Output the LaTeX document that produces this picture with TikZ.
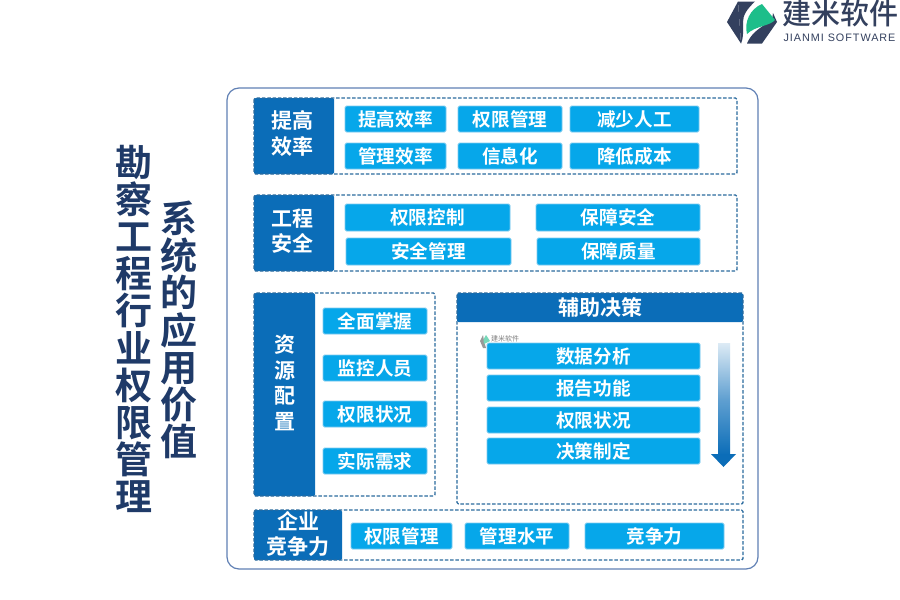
\documentclass[tikz,border=0pt]{standalone}
\usepackage{fontspec}
\setmainfont{Noto Sans CJK SC}[BoldFont={Noto Sans CJK SC Bold}]
\newfontfamily\latinf{Liberation Sans}
\newfontfamily\brandf{Noto Sans CJK SC Medium}
\usetikzlibrary{calc}
\definecolor{hdblue}{HTML}{0B6DB8}
\definecolor{cellblue}{HTML}{06A7EA}
\definecolor{celledge}{HTML}{7CCBF0}
\definecolor{dashblue}{HTML}{2A6A9E}
\definecolor{navy}{HTML}{1F3A68}
\definecolor{logodark}{HTML}{33405E}
\definecolor{logogreen}{HTML}{1DBE8A}
\definecolor{outerblue}{HTML}{6080B4}
\tikzset{
  x=1pt,y=-1pt,
  cellbox/.style={draw=celledge,line width=0.8pt,fill=cellblue,rounded corners=1.5pt,inner sep=0,outer sep=0,text=white,font=\bfseries\fontsize{18.6}{20}\selectfont,anchor=center},
  hdbox/.style={fill=hdblue,rounded corners=1.5pt,inner sep=0,outer sep=0},
  hdtext/.style={inner sep=0,text=white,align=center,font=\bfseries\fontsize{21}{25.5}\selectfont},
  frame/.style={draw=dashblue,line width=1.4pt,dash pattern=on 3.5pt off 1.8pt,rounded corners=1.5pt},
  title/.style={inner sep=0,text=navy,align=center,font=\bfseries\fontsize{37}{37.2}\selectfont},
}
% \cellat{name}{x1}{y1}{x2}{y2}{text}
\newcommand{\cellat}[6]{\pgfmathsetmacro{\cw}{#4-#2}\pgfmathsetmacro{\ch}{#5-#3}%
  \node[cellbox,minimum width=\cw pt,minimum height=\ch pt] (#1) at ({(#2+#4)/2},{(#3+#5)/2}) {#6};}
\newcommand{\hdat}[5]{\pgfmathsetmacro{\cw}{#4-#2}\pgfmathsetmacro{\ch}{#5-#3}%
  \node[hdbox,minimum width=\cw pt,minimum height=\ch pt] (#1) at ({(#2+#4)/2},{(#3+#5)/2}) {};}
\begin{document}
\begin{tikzpicture}
\useasboundingbox (0,0) rectangle (900,600);
\fill[white] (0,0) rectangle (900,600);
% logo
\fill[logodark] (738,1.5) -- (755,1.5) .. controls (747,9) and (743,15) .. (743,22) .. controls (743,30) and (744,36) .. (741,43.5) -- cycle;
\fill[logodark] (738,1.5) -- (741,43.5) -- (727,22) -- cycle;
\fill[logodark] (747,43.5) -- (762,43.5) -- (777,22) -- (773,13) .. controls (774,24) and (754,26) .. (747,43.5) -- cycle;
\fill[logogreen] (762,4) -- (775,20) .. controls (770,26) and (755,26) .. (747,34) .. controls (744,22) and (750,9) .. (762,4) -- cycle;
\node[inner sep=0,text=logodark,font=\brandf\fontsize{29}{30}\selectfont] (brand) at (840,13) {建米软件};
\node[inner sep=0,text=logodark,font=\latinf\fontsize{10.8}{12}\selectfont] (brandlat) at (839.5,38) {\addfontfeature{LetterSpace=9}JIANMI SOFTWARE};
% titles
\node[title] (t1) at (133.5,329) {勘\\察\\工\\程\\行\\业\\权\\限\\管\\理};
\node[title] (t2) at (178.5,330) {系\\统\\的\\应\\用\\价\\值};
% outer
\draw[draw=outerblue,line width=1.2pt,rounded corners=12pt] (227,88) rectangle (758,569);
% row 1
\hdat{h1}{254}{98}{334}{174}
\node[hdtext] (h1t) at (292,133.5) {提高\\效率};
\cellat{a1}{345}{106}{446}{132}{提高效率}
\cellat{a2}{458}{106}{562}{132}{权限管理}
\cellat{a3}{570}{106}{699}{132}{减少人工}
\cellat{a4}{345}{143}{446}{169}{管理效率}
\cellat{a5}{458}{143}{562}{169}{信息化}
\cellat{a6}{570}{143}{699}{169}{降低成本}
\draw[frame] (254,98) rectangle (737,174);
% row 2
\hdat{h2}{254}{195}{334}{271}
\node[hdtext] (h2t) at (292,231) {工程\\安全};
\cellat{b1}{345}{204}{510}{231}{权限控制}
\cellat{b2}{346}{238}{511}{265}{安全管理}
\cellat{b3}{536}{204}{700}{231}{保障安全}
\cellat{b4}{537}{238}{700}{265}{保障质量}
\draw[frame] (254,195) rectangle (737,271);
% row 3 left
\hdat{h3}{254}{293}{315}{496}
\node[hdtext] (h3t) at (285,383) {资\\源\\配\\置};
\cellat{c1}{323}{308}{427}{334}{全面掌握}
\cellat{c2}{323}{355}{427}{381}{监控人员}
\cellat{c3}{323}{401}{427}{427}{权限状况}
\cellat{c4}{323}{448}{427}{474}{实际需求}
\draw[frame] (254,293) rectangle (435,496);
% row 3 right
\hdat{h4}{457}{293}{743}{322}
\node[hdtext] (h4t) at (600,307.5) {辅助决策};
\draw[frame] (457,293) rectangle (743,504);
\node[inner sep=0,text=black!50,font=\fontsize{7}{7}\selectfont] (wm) at (505,339) {建米软件};
\fill[black!40] (483,335) -- (480,341) -- (483,348) -- (486,348) -- (484,341) -- cycle;
\fill[logogreen!60] (486,335) -- (490,341) -- (484,344) .. controls (483,340) and (484,337) .. (486,335) -- cycle;
\cellat{d1}{487}{343}{700}{369}{数据分析}
\cellat{d2}{487}{375}{700}{401}{报告功能}
\cellat{d3}{487}{407}{700}{433}{权限状况}
\cellat{d4}{487}{438}{700}{464}{决策制定}
\shade[top color=hdblue!14,bottom color=hdblue,middle color=hdblue!65] (718,343) rectangle (730,455);
\fill[hdblue] (711,454) -- (736,454) -- (723.5,467) -- cycle;
% bottom
\hdat{h5}{254}{510}{342}{560}
\node[hdtext] (h5t) at (298,534) {企业\\竞争力};
\cellat{e1}{351}{523}{452}{549}{权限管理}
\cellat{e2}{465}{523}{569}{549}{管理水平}
\cellat{e3}{585}{523}{724}{549}{竞争力}
\draw[frame] (254,510) rectangle (743,560);
\end{tikzpicture}
\end{document}
